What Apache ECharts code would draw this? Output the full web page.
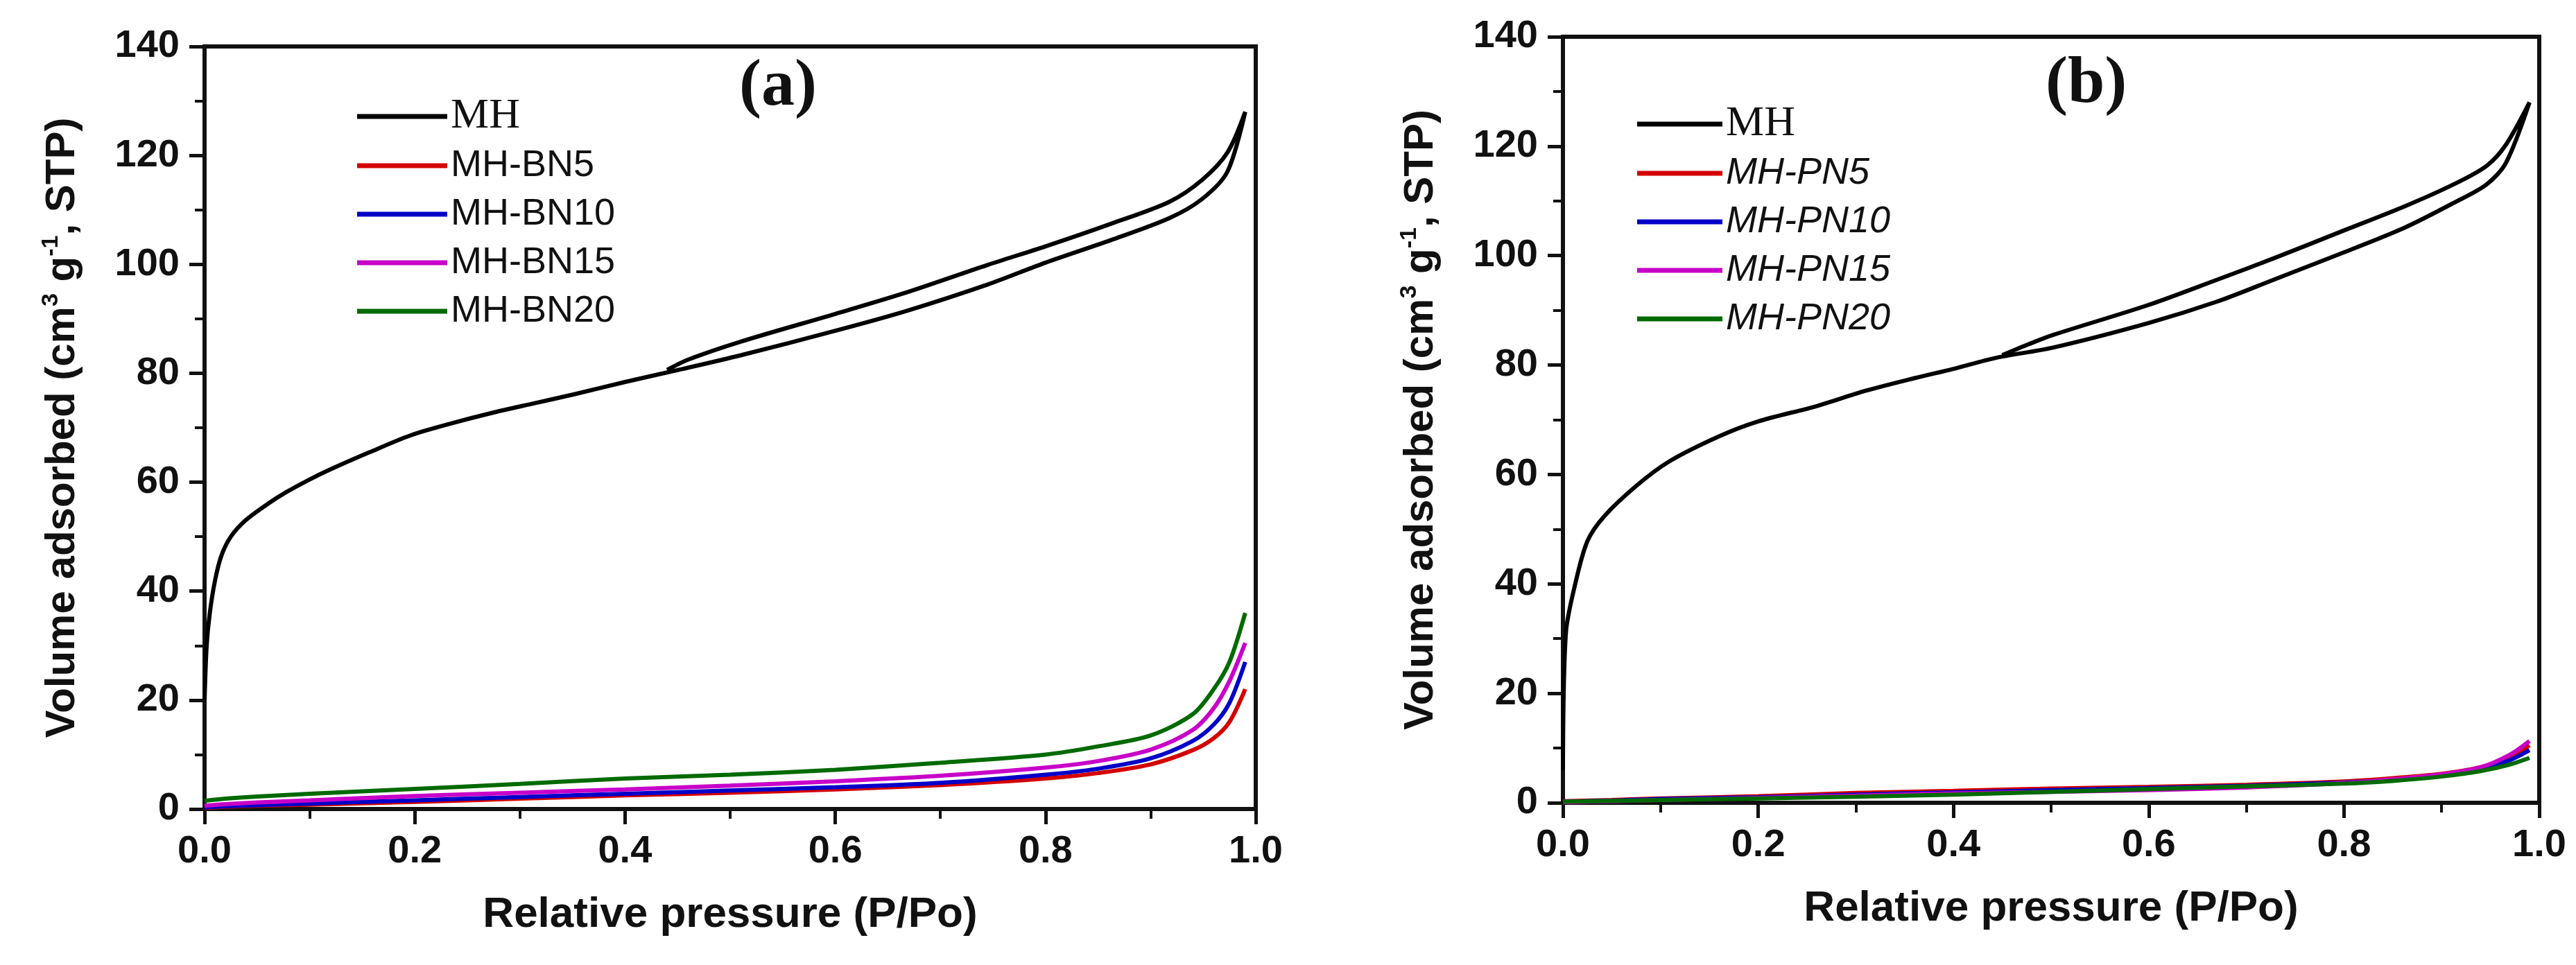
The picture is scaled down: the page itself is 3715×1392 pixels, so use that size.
<!DOCTYPE html>
<html>
<head>
<meta charset="utf-8">
<script src="https://cdn.jsdelivr.net/npm/echarts@6/dist/echarts.min.js"></script>
<style>
html,body{margin:0;padding:0;background:#fff;}
#c{width:3715px;height:1392px;}
</style>
</head>
<body>
<div id="c"></div>
<script>
// ---------- DATA ----------
// Panel (a): MH isotherm, adsorption branch then desorption branch
const mhA_adsX = [0, 0.002, 0.005, 0.010, 0.016, 0.025, 0.039, 0.06, 0.078, 0.1, 0.118, 0.157, 0.196, 0.235, 0.275, 0.314, 0.353, 0.4, 0.455, 0.51, 0.6, 0.667, 0.745, 0.8, 0.863, 0.918, 0.949, 0.973, 0.99];
const mhA_adsY = [20, 30, 36, 42, 46.5, 50, 53, 56, 58.2, 60.5, 62.2, 65.5, 68.6, 70.8, 72.8, 74.5, 76.2, 78.4, 80.8, 83.3, 87.8, 91.4, 96.3, 100.3, 104.5, 108.5, 112, 117, 128];
const mhA_desX = [0.973, 0.949, 0.918, 0.863, 0.8, 0.745, 0.667, 0.6, 0.51, 0.46, 0.44];
const mhA_desY = [120.5, 115.5, 111.5, 107.5, 103.3, 99.9, 94.8, 90.9, 85.8, 82.5, 80.6];

// Panel (a): BN composites
const lowA_X = [0.0, 0.02, 0.05, 0.1, 0.2, 0.3, 0.4, 0.5, 0.6, 0.7, 0.8, 0.85, 0.9, 0.94, 0.96, 0.975, 0.99];
const bn5  = [0.2, 0.4, 0.6, 0.8, 1.3, 1.9, 2.5, 3.0, 3.6, 4.4, 5.6, 6.6, 8.2, 10.8, 13, 16, 22];
const bn10 = [0.3, 0.5, 0.7, 1.0, 1.6, 2.2, 2.8, 3.4, 4.0, 4.8, 6.3, 7.4, 9.3, 12.5, 15.5, 19.5, 27];
const bn15 = [0.6, 0.9, 1.2, 1.6, 2.4, 3.0, 3.6, 4.3, 5.1, 6.1, 7.6, 8.8, 10.9, 14.5, 18.5, 23.5, 30.5];
const bn20 = [1.5, 1.9, 2.3, 2.8, 3.7, 4.6, 5.6, 6.3, 7.2, 8.5, 10, 11.5, 13.5, 17.4, 22, 27, 36];

// Panel (b): MH isotherm
const mhB_adsX = [0, 0.003, 0.0126, 0.025, 0.042, 0.075, 0.109, 0.159, 0.2, 0.26, 0.31, 0.36, 0.4, 0.443, 0.502, 0.6, 0.67, 0.728, 0.8, 0.862, 0.912, 0.946, 0.966, 0.99];
const mhB_adsY = [6, 31, 40, 47.8, 52.3, 57.9, 62.4, 66.9, 69.7, 72.5, 75.3, 77.6, 79.3, 81.3, 83.2, 87.7, 91.6, 95.6, 100.6, 105.1, 109.6, 113, 117, 128];
const mhB_desX = [0.966, 0.946, 0.912, 0.862, 0.8, 0.728, 0.67, 0.6, 0.502, 0.477, 0.45];
const mhB_desY = [120.3, 116.4, 113, 109, 104.6, 99.5, 95.6, 91, 85.5, 83.8, 81.8];

// Panel (b): PN composites
const lowB_X = [0, 0.05, 0.1, 0.2, 0.3, 0.4, 0.5, 0.6, 0.7, 0.8, 0.85, 0.9, 0.94, 0.97, 0.99];
const pn5  = [0.3, 0.5, 0.8, 1.2, 1.8, 2.2, 2.6, 2.9, 3.3, 3.9, 4.5, 5.3, 6.5, 8.3, 10.5];
const pn10 = [0.2, 0.4, 0.7, 1.0, 1.5, 1.9, 2.3, 2.7, 3.1, 3.7, 4.2, 5.0, 6.2, 7.8, 9.6];
const pn15 = [0.1, 0.3, 0.5, 0.9, 1.3, 1.7, 2.0, 2.3, 2.8, 3.6, 4.3, 5.2, 6.5, 8.8, 11.3];
const pn20 = [0.2, 0.35, 0.5, 0.8, 1.1, 1.5, 2.0, 2.5, 3.0, 3.5, 4.0, 4.8, 5.8, 7.0, 8.2];

const namesA = ['MH', 'MH-BN5', 'MH-BN10', 'MH-BN15', 'MH-BN20'];
const namesB = ['MH', 'MH-PN5', 'MH-PN10', 'MH-PN15', 'MH-PN20'];
const xTicks = [0, 0.2, 0.4, 0.6, 0.8, 1.0];
const yTicks = [0, 20, 40, 60, 80, 100, 120, 140];
const xTitle = 'Relative pressure (P/Po)';
const yTitle = 'Volume adsorbed (cm{sup|3} g{sup|-1}, STP)';
const panelTags = ['(a)', '(b)'];

// ---------- helpers ----------
const zip = (xs, ys) => xs.map((x, i) => [x, ys[i]]);
const loop = (ax, ay, dx, dy) => zip(ax, ay).concat(zip(dx, dy));

const COLORS = { MH: '#000000', c5: '#d40000', c10: '#0000c8', c15: '#c800c8', c20: '#006a00' };
const SANS = 'Liberation Sans, Arial, sans-serif';
const SERIF = 'Liberation Serif, Times New Roman, serif';

function mkX(gi) {
  return {
    type: 'value', gridIndex: gi, min: xTicks[0], max: xTicks[xTicks.length - 1], interval: 0.2,
    name: xTitle, nameLocation: 'middle', nameGap: 122,
    nameTextStyle: { fontFamily: SANS, fontWeight: 'bold', fontSize: 62, color: '#111' },
    axisLine: { show: true, lineStyle: { color: '#111', width: 6 } },
    axisTick: { show: true, inside: false, length: 22, lineStyle: { color: '#111', width: 5 } },
    minorTick: { show: true, splitNumber: 2, length: 14, lineStyle: { color: '#111', width: 4 } },
    splitLine: { show: false },
    axisLabel: { margin: 34, fontFamily: SANS, fontWeight: 'bold', fontSize: 56, color: '#111',
      formatter: v => v.toFixed(1) }
  };
}
function mkY(gi) {
  return {
    type: 'value', gridIndex: gi, min: yTicks[0], max: yTicks[yTicks.length - 1], interval: 20,
    name: yTitle, nameLocation: 'middle', nameGap: 172, nameRotate: 90,
    nameTextStyle: { fontFamily: SANS, fontWeight: 'bold', fontSize: 60, color: '#111', lineHeight: 66,
      rich: { sup: { fontFamily: SANS, fontWeight: 'bold', fontSize: 34, lineHeight: 66, verticalAlign: 'top', color: '#111', padding: [0, 0, 30, 0] } } },
    axisLine: { show: true, lineStyle: { color: '#111', width: 6 } },
    axisTick: { show: true, inside: false, length: 22, lineStyle: { color: '#111', width: 5 } },
    minorTick: { show: true, splitNumber: 2, length: 14, lineStyle: { color: '#111', width: 4 } },
    splitLine: { show: false },
    axisLabel: { margin: 36, fontFamily: SANS, fontWeight: 'bold', fontSize: 56, color: '#111' }
  };
}
function line(name, data, color, gi, w) {
  return {
    name, type: 'line', xAxisIndex: gi, yAxisIndex: gi, data,
    showSymbol: false, symbol: 'none', smooth: 0.3, animation: false,
    lineStyle: { color, width: w }, itemStyle: { color }, z: 3
  };
}
function mkLegend(names, left, top, w, italic) {
  return {
    data: names, orient: 'vertical', left, top, itemWidth: w, itemHeight: 7, itemGap: 10,
    icon: 'rect', selectedMode: false,
    formatter: n => n === 'MH' ? '{s|MH}' : n,
    textStyle: { fontFamily: SANS, fontSize: 54, color: '#111', lineHeight: 60, fontStyle: italic ? 'italic' : 'normal',
      rich: { s: { fontFamily: SERIF, fontSize: 62, fontWeight: 'normal', color: '#111', lineHeight: 60, fontStyle: 'normal' } } }
  };
}

const chart = echarts.init(document.getElementById('c'), null, { renderer: 'canvas' });
chart.setOption({
  backgroundColor: '#fff',
  animation: false,
  grid: [
    { left: 295, top: 67, width: 1516, height: 1100, show: true, borderColor: '#111', borderWidth: 6, backgroundColor: 'transparent' },
    { left: 2254, top: 53, width: 1408, height: 1105, show: true, borderColor: '#111', borderWidth: 6, backgroundColor: 'transparent' }
  ],
  xAxis: [mkX(0), mkX(1)],
  yAxis: [mkY(0), mkY(1)],
  legend: [
    mkLegend(namesA, 510, 132, 130, false),
    mkLegend(namesB, 2356, 143, 123, true)
  ],
  graphic: [
    { type: 'text', left: 1066, top: 78, style: { text: panelTags[0], font: 'bold 96px ' + SERIF, fill: '#111' } },
    { type: 'text', left: 2950, top: 74, style: { text: panelTags[1], font: 'bold 96px ' + SERIF, fill: '#111' } }
  ],
  series: [
    line(namesA[1], zip(lowA_X, bn5), COLORS.c5, 0, 6),
    line(namesA[2], zip(lowA_X, bn10), COLORS.c10, 0, 6),
    line(namesA[3], zip(lowA_X, bn15), COLORS.c15, 0, 6),
    line(namesA[4], zip(lowA_X, bn20), COLORS.c20, 0, 6),
    line(namesA[0], loop(mhA_adsX, mhA_adsY, mhA_desX, mhA_desY), COLORS.MH, 0, 6),
    line(namesB[1], zip(lowB_X, pn5), COLORS.c5, 1, 6),
    line(namesB[2], zip(lowB_X, pn10), COLORS.c10, 1, 6),
    line(namesB[3], zip(lowB_X, pn15), COLORS.c15, 1, 6),
    line(namesB[4], zip(lowB_X, pn20), COLORS.c20, 1, 6),
    line(namesB[0], loop(mhB_adsX, mhB_adsY, mhB_desX, mhB_desY), COLORS.MH, 1, 6)
  ]
});
</script>
</body>
</html>
